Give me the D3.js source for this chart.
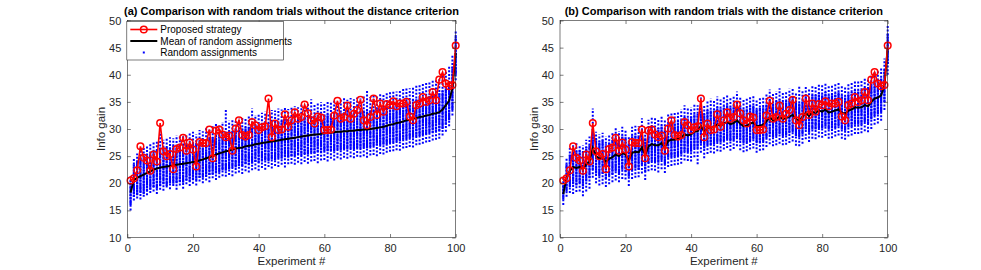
<!DOCTYPE html>
<html>
<head>
<meta charset="utf-8">
<script src="https://cdn.jsdelivr.net/npm/d3@7"></script>
<style>
  body { margin: 0; background: #fff; }
  svg { display: block; font-family: "Liberation Sans", Arial, sans-serif; }
</style>
</head>
<body>
<script>
const width = 981;
const height = 270;

// proposed strategy (same in both panels)
const proposed = [
  20.5,20.9,22.4,26.8,24.7,24.2,22.3,25.3,24.0,31.1,
  25.9,25.0,25.4,22.6,26.3,26.6,28.4,26.0,27.5,26.2,
  23.1,27.6,27.4,27.4,29.9,24.6,29.7,29.9,29.0,28.5,
  28.8,26.0,30.1,31.6,28.9,28.6,28.9,31.3,30.7,29.8,
  30.3,30.5,35.6,28.5,31.0,29.8,29.9,32.7,30.4,31.6,
  33.1,31.9,32.2,34.5,32.9,31.6,31.0,32.3,32.1,29.8,
  29.8,29.9,32.5,35.2,31.9,32.2,34.3,31.9,32.8,33.5,
  35.4,31.6,30.7,32.2,35.6,32.6,34.7,33.2,34.6,34.4,
  35.1,34.2,34.7,34.7,35.0,32.3,31.6,34.4,34.7,35.9,
  35.0,35.3,36.8,35.3,39.1,40.5,38.4,37.9,38.1,45.4
];

// (a) without distance criterion
const meanA = [
  18.3,20.6,21.0,21.3,21.6,21.9,22.2,22.5,22.7,22.9,
  23.0,23.1,23.2,23.3,23.4,23.5,23.6,23.7,23.8,23.9,
  24.0,24.2,24.4,24.6,24.8,25.0,25.3,25.5,25.7,25.9,
  26.0,26.2,26.4,26.5,26.6,26.8,26.9,27.0,27.2,27.3,
  27.4,27.5,27.6,27.7,27.8,27.9,28.0,28.1,28.2,28.3,
  28.4,28.5,28.6,28.7,28.8,28.9,29.0,29.0,29.1,29.2,
  29.3,29.3,29.4,29.5,29.5,29.6,29.6,29.7,29.7,29.8,
  29.8,29.9,29.9,30.0,30.1,30.2,30.3,30.4,30.6,30.8,
  30.9,31.1,31.2,31.4,31.6,31.7,31.9,32.0,32.2,32.3,
  32.5,32.6,32.8,32.9,33.1,33.6,34.4,35.2,37.5,44.0
];
const minA = [
  15.0,16.8,17.2,17.0,17.5,17.8,18.2,18.5,18.0,18.8,
  18.6,19.2,18.9,19.5,18.8,19.6,19.0,19.8,19.5,19.9,
  19.6,20.3,20.0,20.5,20.2,20.9,20.6,21.0,21.3,21.2,
  21.5,21.3,21.8,22.0,21.7,22.2,22.0,22.4,22.6,22.3,
  22.8,22.5,23.0,22.7,23.2,23.0,23.4,22.9,23.5,23.6,
  23.4,23.8,23.5,23.9,23.6,24.0,24.1,23.7,24.2,24.3,
  24.0,24.5,24.2,24.6,24.4,24.7,24.5,24.8,24.6,24.9,
  24.8,25.0,24.7,25.1,25.2,25.0,25.4,25.3,25.6,25.8,
  25.9,26.1,26.0,26.4,26.5,26.7,26.6,27.0,27.1,27.3,
  27.5,27.6,27.9,28.0,28.2,28.8,29.5,30.5,32.5,39.0
];
const coreLoA = [
  16.0,17.5,17.8,18.2,18.0,18.5,18.8,19.3,19.0,19.5,
  19.8,19.5,20.0,19.9,20.0,20.2,20.1,20.5,20.3,20.6,
  20.5,21.0,21.0,21.2,21.5,21.6,21.8,22.0,22.4,22.3,
  22.6,22.9,22.9,23.2,23.1,23.5,23.4,23.6,23.9,23.8,
  24.0,24.2,24.1,24.4,24.3,24.6,24.5,24.8,24.7,25.0,
  25.0,25.2,25.1,25.4,25.3,25.6,25.5,25.7,25.6,25.9,
  25.9,26.0,25.9,26.2,26.1,26.3,26.2,26.4,26.3,26.5,
  26.4,26.6,26.5,26.7,26.8,26.9,27.0,27.1,27.2,27.4,
  27.5,27.7,27.8,28.0,28.1,28.3,28.4,28.6,28.7,28.9,
  29.0,29.2,29.3,29.5,29.6,30.0,30.8,31.6,33.5,40.0
];
const coreHiA = [
  20.5,23.5,24.2,24.8,25.0,25.3,25.6,26.0,26.1,26.6,
  26.4,26.7,26.6,26.9,26.8,27.1,27.0,27.3,27.2,27.5,
  27.4,27.7,27.9,28.1,28.3,28.5,28.8,29.0,29.2,29.4,
  29.5,29.7,29.9,30.0,30.1,30.3,30.4,30.5,30.7,30.8,
  30.9,31.0,31.1,31.2,31.3,31.4,31.5,31.6,31.7,31.8,
  31.9,32.0,32.1,32.2,32.3,32.4,32.5,32.5,32.6,32.7,
  32.8,32.8,32.9,33.0,33.0,33.1,33.1,33.2,33.2,33.3,
  33.3,33.4,33.4,33.5,33.6,33.7,33.8,33.9,34.1,34.3,
  34.4,34.6,34.7,34.9,35.1,35.2,35.4,35.5,35.7,35.8,
  36.0,36.1,36.3,36.4,36.6,37.1,37.9,38.7,41.5,47.0
];
const maxA = [
  21.5,24.5,25.5,26.5,26.5,27.0,27.2,27.5,27.8,29.5,
  28.0,28.2,28.5,28.3,28.8,28.6,29.0,28.9,29.3,29.5,
  29.0,29.8,29.6,30.2,30.0,30.5,31.0,30.8,31.3,33.5,
  31.5,31.8,31.6,32.0,32.3,32.0,32.5,33.8,32.6,32.9,
  33.0,33.2,33.0,33.5,33.4,33.8,33.6,33.9,33.7,34.0,
  34.2,34.0,34.5,34.3,34.6,35.5,34.7,34.8,35.0,34.9,
  35.2,35.0,35.3,35.1,35.5,36.0,35.4,35.7,35.5,35.8,
  35.6,36.0,37.0,35.9,36.2,36.0,36.4,36.3,36.6,36.8,
  37.0,36.9,37.2,37.4,37.6,37.5,37.9,38.0,38.2,38.5,
  38.6,38.8,39.0,39.2,39.5,40.0,40.8,41.5,43.5,48.0
];

// (b) with distance criterion
const meanB = [
  18.0,21.0,22.3,23.0,22.8,23.0,22.6,23.5,24.0,26.5,
  25.0,24.5,24.8,24.0,24.5,24.8,25.3,25.0,25.6,25.3,
  24.2,25.6,25.8,25.7,26.6,25.2,26.8,27.2,27.0,27.0,
  27.4,26.6,27.8,28.0,28.0,28.2,28.4,29.0,28.8,29.0,
  29.5,29.6,30.6,29.5,30.2,30.2,30.4,30.8,30.6,31.0,
  31.3,30.9,31.1,31.6,31.0,30.5,30.6,31.0,31.2,30.5,
  30.6,30.8,31.4,32.2,31.6,31.8,32.3,31.8,32.0,32.3,
  32.6,31.8,31.6,32.2,33.0,32.4,33.1,33.0,33.4,33.2,
  33.6,33.0,33.2,33.4,33.6,33.0,32.8,33.4,33.6,34.0,
  33.9,34.0,34.4,34.2,35.0,35.6,35.8,36.2,38.0,45.0
];
const minB = [
  16.0,17.5,18.2,18.0,18.4,18.5,17.6,18.5,19.0,21.0,
  20.0,19.6,19.8,19.3,19.8,20.2,20.5,20.2,20.8,20.7,
  19.5,20.8,21.0,21.1,21.8,20.6,22.2,22.4,22.3,22.0,
  22.6,21.9,23.0,23.2,23.3,23.4,23.6,24.2,24.1,24.0,
  24.8,23.5,25.6,24.6,25.4,25.6,25.5,25.9,25.8,26.2,
  26.5,26.0,26.3,26.8,26.1,25.7,25.9,26.2,26.4,25.6,
  26.0,26.1,26.7,27.2,26.8,27.0,27.3,27.0,27.1,27.4,
  27.7,26.9,26.8,27.3,28.1,27.6,28.2,28.1,28.5,28.4,
  28.7,28.2,28.3,28.6,28.8,28.2,28.0,28.6,28.8,29.1,
  29.1,29.2,29.6,29.4,30.0,30.8,31.0,31.5,33.5,40.0
];
const coreLoB = [
  17.0,18.5,19.3,19.8,19.6,20.0,19.4,20.3,20.9,22.5,
  21.8,21.3,21.7,20.8,21.4,21.6,22.2,21.8,22.5,22.1,
  21.2,22.4,22.7,22.5,23.4,22.1,23.7,24.0,23.9,23.8,
  24.3,23.5,24.7,24.8,24.9,25.0,25.3,25.8,25.7,25.8,
  26.4,26.4,27.3,26.4,27.0,27.1,27.2,27.6,27.5,27.8,
  28.1,27.8,27.9,28.4,27.9,27.4,27.5,27.8,28.1,27.4,
  27.5,27.7,28.3,29.0,28.5,28.7,29.1,28.7,28.8,29.2,
  29.4,28.7,28.5,29.0,29.9,29.3,29.9,29.9,30.2,30.1,
  30.4,29.9,30.1,30.2,30.5,29.9,29.7,30.3,30.4,30.8,
  30.8,30.8,31.3,31.0,31.8,32.4,32.7,33.1,35.0,42.0
];
const coreHiB = [
  19.5,23.5,25.3,26.2,26.0,26.1,25.8,26.7,27.2,30.0,
  28.2,27.7,28.0,27.2,27.6,28.0,28.5,28.1,28.8,28.5,
  27.4,28.8,29.0,28.8,29.9,28.4,30.0,30.5,30.2,30.2,
  30.6,29.8,31.0,31.2,31.2,31.5,31.6,32.2,32.0,32.3,
  32.7,32.8,33.9,32.7,33.5,33.4,33.7,34.0,33.8,34.2,
  34.5,34.1,34.4,34.8,34.2,33.7,33.8,34.3,34.4,33.7,
  33.9,34.0,34.6,35.4,34.8,35.1,35.5,35.0,35.2,35.5,
  35.9,35.1,34.8,35.4,36.2,35.6,36.3,36.2,36.6,36.4,
  36.8,36.2,36.4,36.6,36.8,36.2,36.0,36.6,36.8,37.2,
  37.1,37.2,37.6,37.4,38.2,38.8,39.0,39.4,41.0,47.5
];
const maxB = [
  21.0,24.5,26.5,27.2,27.5,27.0,27.0,28.0,28.6,33.8,
  29.5,29.0,29.3,28.6,29.0,29.4,30.2,29.6,30.4,30.0,
  28.8,30.4,30.6,30.5,32.0,30.0,31.7,32.3,32.0,31.8,
  32.3,31.6,32.7,33.1,33.0,33.2,33.6,34.4,33.8,34.0,
  34.6,34.4,35.8,34.5,35.3,35.6,35.2,36.0,35.5,36.1,
  36.3,35.8,36.0,36.9,35.9,35.4,35.6,36.0,36.2,35.5,
  35.8,36.0,36.6,37.3,36.6,37.0,37.5,36.8,37.0,37.4,
  37.6,36.8,38.0,37.2,38.0,37.4,38.0,37.9,38.4,38.2,
  38.6,38.0,38.2,38.4,38.6,38.0,37.8,38.4,38.6,39.0,
  38.9,39.0,39.4,39.2,40.0,40.6,40.8,41.2,43.0,49.0
];

const xTicks = [0, 20, 40, 60, 80, 100];
const yTicks = [10, 15, 20, 25, 30, 35, 40, 45, 50];
const titles = [
  "(a) Comparison with random trials without the distance criterion",
  "(b) Comparison with random trials with the distance criterion"
];
const legendLabels = ["Proposed strategy", "Mean of random assignments", "Random assignments"];

const axisColor = "#262626";

const svg = d3.select("body").append("svg")
  .attr("width", width)
  .attr("height", height);

function drawPanel(left, right, title, mean, lo, coreLo, coreHi, hi, withLegend) {
  const top = 20.5, bottom = 237.5;
  const x = d3.scaleLinear().domain([0, 100]).range([left, right]);
  const y = d3.scaleLinear().domain([10, 50]).range([bottom, top]);
  const exps = d3.range(1, proposed.length + 1);

  const g = svg.append("g");

  // random assignments: sparse tails + dense core
  const cols = g.append("g").attr("stroke", "#0000ff").attr("stroke-width", 2);
  cols.selectAll("line.tail")
    .data(exps)
    .join("line")
    .attr("class", "tail")
    .attr("x1", d => x(d)).attr("x2", d => x(d))
    .attr("y1", d => y(lo[d - 1])).attr("y2", d => y(hi[d - 1]))
    .attr("stroke-dasharray", "2 1.6");
  cols.selectAll("line.core")
    .data(exps)
    .join("line")
    .attr("class", "core")
    .attr("x1", d => x(d)).attr("x2", d => x(d))
    .attr("y1", d => y(coreLo[d - 1])).attr("y2", d => y(coreHi[d - 1]))
    .attr("stroke-width", 2.2)
    .attr("stroke-dasharray", "2.4 0.4");

  // mean of random assignments
  g.append("path")
    .datum(exps)
    .attr("fill", "none")
    .attr("stroke", "#000")
    .attr("stroke-width", 2)
    .attr("d", d3.line().x(d => x(d)).y(d => y(mean[d - 1])));

  // proposed strategy
  g.append("path")
    .datum(exps)
    .attr("fill", "none")
    .attr("stroke", "#ff0000")
    .attr("stroke-width", 1.6)
    .attr("d", d3.line().x(d => x(d)).y(d => y(proposed[d - 1])));
  g.selectAll("circle.prop")
    .data(exps)
    .join("circle")
    .attr("class", "prop")
    .attr("cx", d => x(d))
    .attr("cy", d => y(proposed[d - 1]))
    .attr("r", 3.3)
    .attr("fill", "none")
    .attr("stroke", "#ff0000")
    .attr("stroke-width", 1.5);

  // axes (MATLAB style, ticks inside, box)
  const tickLen = 3.5;
  g.append("g")
    .attr("transform", `translate(0,${bottom})`)
    .call(d3.axisBottom(x).tickValues(xTicks).tickSizeInner(-tickLen).tickSizeOuter(0).tickPadding(7))
    .call(s => s.select(".domain").remove());
  g.append("g")
    .attr("transform", `translate(0,${top})`)
    .call(d3.axisTop(x).tickValues(xTicks).tickSizeInner(-tickLen).tickSizeOuter(0).tickFormat(""))
    .call(s => s.select(".domain").remove());
  g.append("g")
    .attr("transform", `translate(${left},0)`)
    .call(d3.axisLeft(y).tickValues(yTicks).tickSizeInner(-tickLen).tickSizeOuter(0).tickPadding(6))
    .call(s => s.select(".domain").remove());
  g.append("g")
    .attr("transform", `translate(${right},0)`)
    .call(d3.axisRight(y).tickValues(yTicks).tickSizeInner(-tickLen).tickSizeOuter(0).tickFormat(""))
    .call(s => s.select(".domain").remove());
  g.selectAll(".tick line").attr("stroke", axisColor).attr("stroke-width", 0.6);
  g.selectAll(".tick text")
    .attr("fill", axisColor)
    .attr("font-size", 11)
    .attr("font-family", "Liberation Sans, Arial, sans-serif");
  g.append("rect")
    .attr("x", left).attr("y", top)
    .attr("width", right - left).attr("height", bottom - top)
    .attr("fill", "none")
    .attr("stroke", axisColor)
    .attr("stroke-width", 0.6);

  // labels
  g.append("text")
    .attr("x", (left + right) / 2).attr("y", 15)
    .attr("text-anchor", "middle")
    .attr("font-size", 11)
    .attr("font-weight", "bold")
    .attr("fill", "#000")
    .text(title);
  g.append("text")
    .attr("x", (left + right) / 2).attr("y", 265)
    .attr("text-anchor", "middle")
    .attr("font-size", 11.5)
    .attr("fill", axisColor)
    .text("Experiment #");
  g.append("text")
    .attr("transform", `translate(${left - 22},${(top + bottom) / 2}) rotate(-90)`)
    .attr("text-anchor", "middle")
    .attr("font-size", 11.5)
    .attr("fill", axisColor)
    .text("Info gain");

  if (withLegend) {
    const lg = g.append("g");
    lg.append("rect")
      .attr("x", left - 0.5).attr("y", 21.5)
      .attr("width", 156.5).attr("height", 38.5)
      .attr("fill", "#fff")
      .attr("stroke", axisColor)
      .attr("stroke-width", 0.6);
    const rowY = [29.5, 41, 52.5];
    // proposed
    lg.append("line")
      .attr("x1", left + 3).attr("x2", left + 30)
      .attr("y1", rowY[0]).attr("y2", rowY[0])
      .attr("stroke", "#ff0000").attr("stroke-width", 1.6);
    lg.append("circle")
      .attr("cx", left + 16.5).attr("cy", rowY[0]).attr("r", 3.3)
      .attr("fill", "none").attr("stroke", "#ff0000").attr("stroke-width", 1.5);
    // mean
    lg.append("line")
      .attr("x1", left + 3).attr("x2", left + 30)
      .attr("y1", rowY[1]).attr("y2", rowY[1])
      .attr("stroke", "#000").attr("stroke-width", 2);
    // random
    lg.append("rect")
      .attr("x", left + 15.5).attr("y", rowY[2] - 1)
      .attr("width", 2).attr("height", 2)
      .attr("fill", "#0000ff");
    lg.selectAll("text")
      .data(legendLabels)
      .join("text")
      .attr("x", left + 33)
      .attr("y", (d, i) => rowY[i] + 3.5)
      .attr("font-size", 10)
      .attr("fill", "#000")
      .text(d => d);
  }
}

drawPanel(127.3, 455.7, titles[0], meanA, minA, coreLoA, coreHiA, maxA, true);
drawPanel(560, 887.7, titles[1], meanB, minB, coreLoB, coreHiB, maxB, false);
</script>
</body>
</html>
